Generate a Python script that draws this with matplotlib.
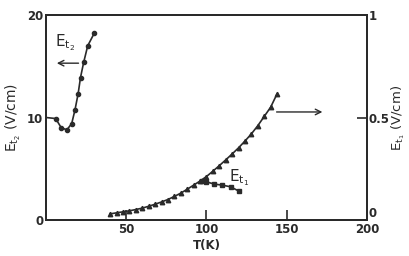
import matplotlib
matplotlib.use("Agg")
import matplotlib.pyplot as plt

# Et2 (left axis)
T2 = [0, 6, 9.5, 13, 16, 18, 20, 21.5, 23.5, 26, 30]
E2 = [10.0, 9.9, 9.0, 8.8, 9.4, 10.7, 12.3, 13.9, 15.4, 17.0, 18.2]

# Et1 rising branch (right axis)
T1 = [40, 44, 48, 52, 56, 60, 64, 68, 72, 76, 80, 84, 88, 92, 96, 100,
      104, 108, 112, 116, 120, 124, 128, 132, 136, 140, 144]
E1 = [0.030, 0.035, 0.040, 0.045, 0.051, 0.058, 0.067, 0.077, 0.088, 0.100,
      0.115, 0.131, 0.150, 0.170, 0.190, 0.212, 0.238, 0.265, 0.293, 0.322,
      0.352, 0.385, 0.420, 0.460, 0.505, 0.550, 0.615]

# Et1 falling branch (squares)
T3 = [97, 100, 105, 110, 115, 120]
E3 = [0.192, 0.186, 0.175, 0.170, 0.162, 0.142]

xticks = [50, 100, 150, 200]
lticks = [0, 10, 20]
rticks = [0, 0.5, 1]
rticklabels = ["0", "0.5", "1"]

ink = "#2a2a2a"
plt.rcParams['font.family'] = ['DejaVu Sans']

fig = plt.figure(figsize=(4.09, 2.56), dpi=100)
ax = fig.add_axes([0.1125, 0.1406, 0.7845, 0.8008])
ax2 = ax.twinx()

ax.plot(T2, E2, color=ink, lw=1.2, marker='o', ms=3, markevery=list(range(1, len(T2))))
ax2.plot(T1, E1, color=ink, lw=1.2, marker='^', ms=3.2)
ax2.plot(T3, E3, color=ink, lw=1.2, marker='s', ms=3)

ax.set_xlim(0, 200)
ax.set_ylim(0, 20)
ax2.set_ylim(0, 1)

ax.set_xticks(xticks)
ax.set_xticklabels([str(v) for v in xticks])
ax.set_yticks(lticks)
ax.set_yticklabels([str(v) for v in lticks])
ax2.set_yticks(rticks)
ax2.set_yticklabels(rticklabels)

ax.tick_params(axis='x', direction='in', length=7, width=1.2, colors=ink,
               labelsize=8.5, pad=2)
ax.tick_params(axis='y', direction='in', length=0, colors=ink, labelsize=8.5, pad=2)
ax2.tick_params(axis='y', direction='in', length=7, width=1.2, colors=ink,
                labelsize=8.5, pad=1)
for lab in ax.get_xticklabels() + ax.get_yticklabels() + ax2.get_yticklabels():
    lab.set_fontweight('bold')
ax2.get_yticklabels()[0].set_va('bottom')

for a in (ax, ax2):
    for s in a.spines.values():
        s.set_color(ink)
        s.set_linewidth(1.4)

ax.set_xlabel("T(K)", fontsize=8.5, fontweight='bold', color=ink, labelpad=2)
ax.set_ylabel(r"E$_{\mathregular{t_2}}$ (V/cm)", fontsize=10, color=ink, labelpad=3)
ax2.set_ylabel(r"E$_{\mathregular{t_1}}$ (V/cm)", fontsize=9.5, color=ink,
               rotation=90, labelpad=0)

# annotations
ax.text(5.5, 16.9, r"E$_{\mathregular{t_2}}$", fontsize=11, color=ink)
ax.annotate("", xy=(5, 15.3), xytext=(22, 15.3),
            arrowprops=dict(arrowstyle='->', color=ink, lw=1.0))
ax2.text(114, 0.19, r"E$_{\mathregular{t_1}}$", fontsize=11, color=ink)
ax2.annotate("", xy=(174, 0.527), xytext=(142, 0.527),
             arrowprops=dict(arrowstyle='->', color=ink, lw=1.0))

fig.savefig("out.png", dpi=100)
